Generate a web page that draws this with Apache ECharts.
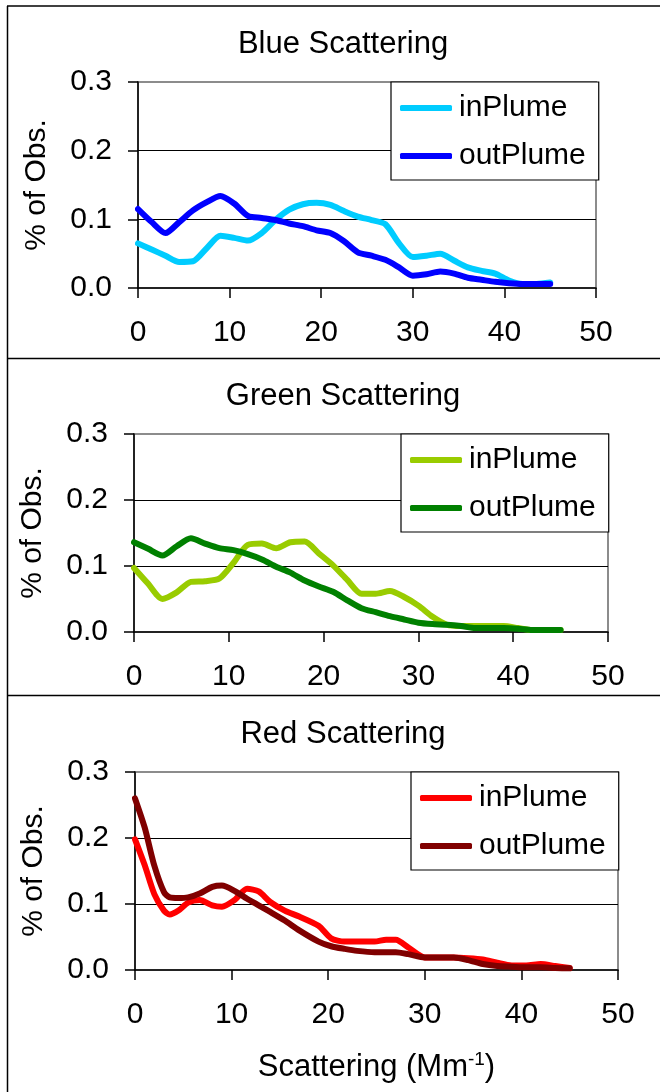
<!DOCTYPE html>
<html>
<head>
<meta charset="utf-8">
<script src="https://cdn.jsdelivr.net/npm/echarts@6/dist/echarts.min.js"></script>
<style>
html,body{margin:0;padding:0;background:#fff;}
#chart{width:660px;height:1092px;}
</style>
</head>
<body>
<div id="chart"></div>
<script>
// ---- data ----
const panelTitles = ['Blue Scattering', 'Green Scattering', 'Red Scattering'];
const seriesNames = ['inPlume', 'outPlume'];
const yTicks = [0, 0.1, 0.2, 0.3];
const xTicks = [0, 10, 20, 30, 40, 50];

const blueX = [0,1.5,3,4.5,6,7.5,9,10.5,12,13.5,15,16.5,18,19.5,21,22.5,24,25.5,27,28.5,30,31.5,33,34.5,36,37.5,39,40.5,42,43.5,45];
const blueIn = [0.065,0.056,0.047,0.038,0.039,0.058,0.076,0.073,0.069,0.080,0.099,0.114,0.122,0.124,0.121,0.112,0.104,0.099,0.093,0.065,0.045,0.047,0.050,0.040,0.030,0.025,0.021,0.011,0.006,0.006,0.008];
const blueOut = [0.115,0.096,0.080,0.096,0.113,0.125,0.134,0.123,0.105,0.102,0.099,0.094,0.090,0.084,0.080,0.068,0.052,0.047,0.041,0.030,0.018,0.020,0.024,0.021,0.015,0.012,0.009,0.007,0.006,0.006,0.006];

const greenX = [0,1.5,3,4.5,6,7.5,9,10.5,12,13.5,15,16.5,18,19.5,21,22.5,24,25.5,27,28.5,30,31.5,33,34.5,36,37.5,39,40.5,42,43.5,45];
const greenIn = [0.097,0.073,0.050,0.060,0.076,0.077,0.081,0.105,0.132,0.134,0.127,0.136,0.137,0.119,0.101,0.079,0.058,0.058,0.062,0.053,0.040,0.023,0.011,0.009,0.009,0.009,0.009,0.006,0.003,0.003,0.003];
const greenOut = [0.136,0.126,0.116,0.130,0.142,0.134,0.127,0.124,0.118,0.110,0.099,0.090,0.078,0.069,0.061,0.048,0.036,0.030,0.024,0.019,0.014,0.012,0.011,0.009,0.006,0.006,0.006,0.005,0.003,0.003,0.003];

const redX = [0,1,2,3,3.6,4.5,5.5,6.7,8,9,10.3,11.6,12.8,14,15.5,17,19,20.3,21.7,23,24.8,26,27,28.3,30,31.5,33,34.5,36,37.5,39,40.5,42,43.5,45];
const redIn = [0.198,0.159,0.115,0.090,0.084,0.090,0.102,0.106,0.098,0.096,0.106,0.123,0.119,0.103,0.090,0.081,0.067,0.048,0.043,0.043,0.043,0.046,0.046,0.034,0.019,0.019,0.019,0.018,0.016,0.011,0.007,0.007,0.009,0.006,0.003];
const redOut = [0.260,0.216,0.158,0.118,0.110,0.109,0.110,0.116,0.126,0.128,0.120,0.108,0.098,0.088,0.075,0.060,0.043,0.036,0.032,0.029,0.027,0.027,0.027,0.024,0.019,0.019,0.019,0.015,0.009,0.006,0.005,0.004,0.004,0.003,0.0025];

// ---- layout/style ----
const FONT = '"Liberation Sans", Arial, sans-serif';
const panels = [
  {key:'Blue',  xs: blueX,  ins: blueIn,  outs: blueOut,  colors:['#00CCFF','#0000FF'],
   grid:{left:138, top:82, width:458, height:206}, titleTop:24, legend:{left:391, top:82}},
  {key:'Green', xs: greenX, ins: greenIn, outs: greenOut, colors:['#99CC00','#008000'],
   grid:{left:134, top:434, width:474, height:198}, titleTop:376, legend:{left:401, top:434}},
  {key:'Red',   xs: redX,   ins: redIn,   outs: redOut,   colors:['#FF0000','#800000'],
   grid:{left:135, top:772, width:483, height:198}, titleTop:714, legend:{left:411, top:772}}
];

const pairs = (xs, ys) => xs.map((x, i) => [x, ys[i]]);

const option = {
  animation: false,
  backgroundColor: '#fff',
  textStyle: {fontFamily: FONT},
  title: panels.map((p, i) => ({
    text: panelTitles[i], left: 338, top: p.titleTop, textAlign: 'center',
    textStyle: {fontFamily: FONT, fontSize: 31, fontWeight: 'normal', color: '#000'}
  })),
  grid: panels.map(p => Object.assign({show: true, borderColor: '#8c8c8c', borderWidth: 2, backgroundColor: 'transparent'}, p.grid)),
  legend: panels.map((p, i) => ({
    left: p.legend.left, top: p.legend.top, orient: 'vertical',
    data: seriesNames.map(n => p.key + ' ' + n),
    formatter: name => name.split(' ')[1],
    icon: 'roundRect', itemWidth: 52, itemHeight: 6, itemGap: 14,
    padding: [9, 13, 7, 9],
    backgroundColor: '#fff', borderColor: '#000', borderWidth: 1.2, borderRadius: 0,
    textStyle: {fontFamily: FONT, fontSize: 30, color: '#000', lineHeight: 34, padding: [0,0,0,2]}
  })),
  xAxis: panels.map((p, i) => ({
    type: 'value', gridIndex: i, min: xTicks[0], max: xTicks[xTicks.length-1], interval: 10,
    axisLine: {show: true, onZero: false, lineStyle: {color: '#000', width: 1.5}},
    axisTick: {show: true, length: 10, lineStyle: {color: '#000', width: 1.5}},
    axisLabel: {fontFamily: FONT, fontSize: 30, color: '#000', margin: 30},
    splitLine: {show: false},
    name: i === 2 ? 'Scattering (Mm{sup|-1})' : '',
    nameLocation: 'middle', nameGap: 80,
    nameTextStyle: {fontFamily: FONT, fontSize: 31, color: '#000', lineHeight: 34,
      rich: {sup: {fontFamily: FONT, fontSize: 19, color: '#000', verticalAlign: 'top', lineHeight: 16}}}
  })),
  yAxis: panels.map((p, i) => ({
    type: 'value', gridIndex: i, min: yTicks[0], max: yTicks[yTicks.length-1], interval: 0.1,
    axisLine: {show: true, lineStyle: {color: '#000', width: 1.5}},
    axisTick: {show: true, length: 10, lineStyle: {color: '#000', width: 1.5}},
    axisLabel: {fontFamily: FONT, fontSize: 30, color: '#000', margin: 26, formatter: v => v.toFixed(1)},
    splitLine: {show: true, showMinLine: false, showMaxLine: false, lineStyle: {color: '#000', width: 1.2}},
    name: '% of Obs.', nameLocation: 'middle', nameGap: 86, nameRotate: 90,
    nameTextStyle: {fontFamily: FONT, fontSize: 30, color: '#000'}
  })),
  series: panels.flatMap((p, i) => [
    {name: p.key + ' inPlume', type: 'line', xAxisIndex: i, yAxisIndex: i, data: pairs(p.xs, p.ins),
     showSymbol: false, symbol: 'none', smooth: 0.25, color: p.colors[0],
     lineStyle: {color: p.colors[0], width: 6, cap: 'round', join: 'round'}, z: 3},
    {name: p.key + ' outPlume', type: 'line', xAxisIndex: i, yAxisIndex: i, data: pairs(p.xs, p.outs),
     showSymbol: false, symbol: 'none', smooth: 0.25, color: p.colors[1],
     lineStyle: {color: p.colors[1], width: 6, cap: 'round', join: 'round'}, z: 4}
  ]),
  graphic: [
    {type: 'line', shape: {x1: 7, y1: 6, x2: 660, y2: 6}, style: {stroke: '#000', lineWidth: 1.5}},
    {type: 'line', shape: {x1: 7.5, y1: 6, x2: 7.5, y2: 1092}, style: {stroke: '#000', lineWidth: 1.5}},
    {type: 'line', shape: {x1: 7, y1: 358.5, x2: 660, y2: 358.5}, style: {stroke: '#000', lineWidth: 1.5}},
    {type: 'line', shape: {x1: 7, y1: 695.5, x2: 660, y2: 695.5}, style: {stroke: '#000', lineWidth: 1.5}}
  ]
};

const chart = echarts.init(document.getElementById('chart'), null, {renderer: 'canvas'});
chart.setOption(option);
</script>
</body>
</html>
